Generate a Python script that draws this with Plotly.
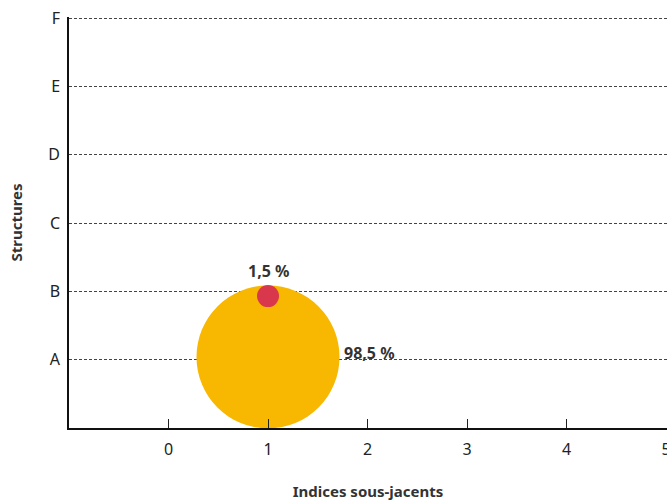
import plotly.graph_objects as go

# data
structures = ["A", "B", "C", "D", "E", "F"]
struct_pos = [1, 2, 3, 4, 5, 6]
x_ticks = [0, 1, 2, 3, 4, 5]

bubble_x = [1, 1]
bubble_y = [1.04, 1.93]
bubble_share = [98.5, 1.5]
bubble_labels = ["98,5 %", "1,5 %"]

ORANGE = "#F8B700"
RED = "#D9384C"
TEXT = "#222222"
LABEL = "#333333"
MAX_D = 143

fig = go.Figure()

fig.add_trace(go.Scatter(
    x=bubble_x, y=bubble_y,
    mode="markers",
    marker=dict(
        size=bubble_share,
        sizemode="area",
        sizeref=2.0 * max(bubble_share) / (MAX_D ** 2),
        sizemin=11,
        color=[ORANGE, RED],
        opacity=1,
        line=dict(width=0),
    ),
    cliponaxis=False,
    hoverinfo="skip",
    showlegend=False,
))

# value labels: big bubble on its right, small bubble above
fig.add_annotation(x=bubble_x[0], y=bubble_y[0], text="<b>%s</b>" % bubble_labels[0],
                   showarrow=False, xanchor="left", yanchor="middle",
                   xshift=74, yshift=4, font=dict(size=16, color=LABEL))
fig.add_annotation(x=bubble_x[1], y=bubble_y[1], text="<b>%s</b>" % bubble_labels[1],
                   showarrow=False, xanchor="center", yanchor="bottom",
                   xshift=0, yshift=12, font=dict(size=16, color=LABEL))

fig.update_layout(
    width=667, height=504,
    margin=dict(l=68.5, r=0, t=17, b=75.5),
    plot_bgcolor="white",
    paper_bgcolor="white",
    font=dict(family="Noto Sans", size=16, color=TEXT),
    xaxis=dict(
        range=[-1, 5.01],
        tickvals=x_ticks,
        ticks="inside", ticklen=9, tickcolor="#222222", tickwidth=1,
        ticklabelstandoff=6,
        ticklabeloverflow="allow",
        showgrid=False, zeroline=False,
        showline=True, linecolor="#111111", linewidth=1.5,
        title=dict(text="<b>Indices sous-jacents</b>", standoff=28,
                   font=dict(size=15, color=LABEL)),
        automargin=False,
    ),
    yaxis=dict(
        range=[0, 6.015],
        tickvals=struct_pos, ticktext=structures,
        ticks="", showgrid=True, gridcolor="#444444", gridwidth=1,
        griddash="3px,2px",
        ticklabelstandoff=4,
        zeroline=False,
        showline=True, linecolor="#111111", linewidth=1.5,
        title=dict(text="<b>Structures</b>", standoff=22,
                   font=dict(size=15, color=LABEL)),
        automargin=False,
    ),
)

fig.write_html("out.html", config={"displayModeBar": False},
               post_script="document.body.style.margin='0';")
